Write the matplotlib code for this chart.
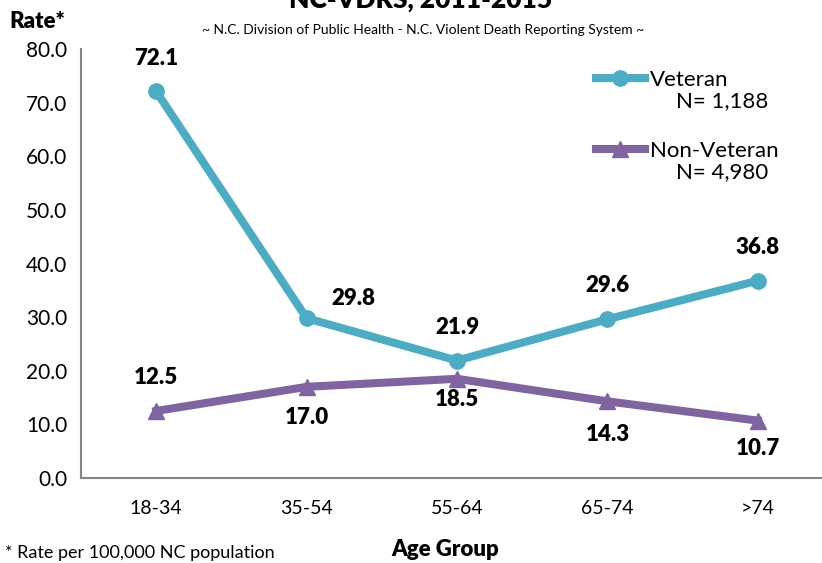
import matplotlib.pyplot as plt
from matplotlib.lines import Line2D

age_groups = ['18-34', '35-54', '55-64', '65-74', '>74']
veteran = [72.1, 29.8, 21.9, 29.6, 36.8]
non_veteran = [12.5, 17.0, 18.5, 14.3, 10.7]
yticks = [0, 10, 20, 30, 40, 50, 60, 70, 80]

vet_color = '#4BACC6'
non_color = '#8064A2'

plt.rcParams['font.family'] = ['Lato', 'DejaVu Sans']

fig = plt.figure(figsize=(8.22, 5.63), dpi=100)
ax = fig.add_axes([81 / 822, 85 / 563, 752 / 822, 429 / 563])

x = list(range(len(age_groups)))
ax.plot(x, veteran, color=vet_color, lw=5.8, marker='o', ms=11, zorder=3)
ax.plot(x, non_veteran, color=non_color, lw=5.8, marker='^', ms=12, zorder=3)

# data labels: offsets in points (dx, dy)
vet_offsets = [(0, 24), (34, 14), (0, 24), (0, 24), (0, 24)]
non_offsets = [(0, 24), (0, -22), (0, -15), (0, -24), (0, -20)]
for i, v in enumerate(veteran):
    ax.annotate(f'{v:.1f}', (i, v), xytext=vet_offsets[i], textcoords='offset points',
                ha='center', va='center', fontsize=16, fontweight='heavy')
for i, v in enumerate(non_veteran):
    ax.annotate(f'{v:.1f}', (i, v), xytext=non_offsets[i], textcoords='offset points',
                ha='center', va='center', fontsize=16, fontweight='heavy')

ax.set_xlim(-0.5, 4.5)
ax.set_ylim(0, 80)
ax.set_yticks(yticks)
ax.set_yticklabels([f'{t:.1f}' for t in yticks], fontsize=15)
ax.set_xticks(x)
ax.set_xticklabels(age_groups, fontsize=14)
ax.tick_params(length=0, pad=10)
ax.tick_params(axis='x', pad=16)
for s in ['top', 'right']:
    ax.spines[s].set_visible(False)
for s in ['left', 'bottom']:
    ax.spines[s].set_color('#868686')
    ax.spines[s].set_linewidth(1.5)

handles = [Line2D([], [], color=vet_color, lw=5.8, marker='o', ms=11),
           Line2D([], [], color=non_color, lw=5.8, marker='^', ms=12)]
leg = ax.legend(handles, ['Veteran', 'Non-Veteran'], loc='upper left',
                bbox_to_anchor=(506 / 752, 1.0 - 12 / 429), frameon=False,
                fontsize=16, handlelength=2.2, handletextpad=0.25, labelspacing=2.3,
                borderaxespad=0)
fig.text(676 / 822, 1 - 101 / 563, 'N= 1,188', fontsize=16, va='center')
fig.text(676 / 822, 1 - 172 / 563, 'N= 4,980', fontsize=16, va='center')

fig.text(421 / 822, 1 - 8 / 563, 'NC-VDRS, 2011-2015', fontsize=19, fontweight='heavy',
         ha='center', va='baseline')
fig.text(423 / 822, 1 - 30 / 563,
         '~ N.C. Division of Public Health - N.C. Violent Death Reporting System ~',
         fontsize=10, ha='center', va='center')
fig.text(9 / 822, 1 - 22 / 563, 'Rate*', fontsize=16, fontweight='heavy', va='center')
fig.text(445 / 822, 1 - 549 / 563, 'Age Group', fontsize=16, fontweight='heavy',
         ha='center', va='center')
fig.text(5 / 822, 1 - 553 / 563, '* Rate per 100,000 NC population', fontsize=13,
         va='center')

fig.savefig('out.png', dpi=100)
